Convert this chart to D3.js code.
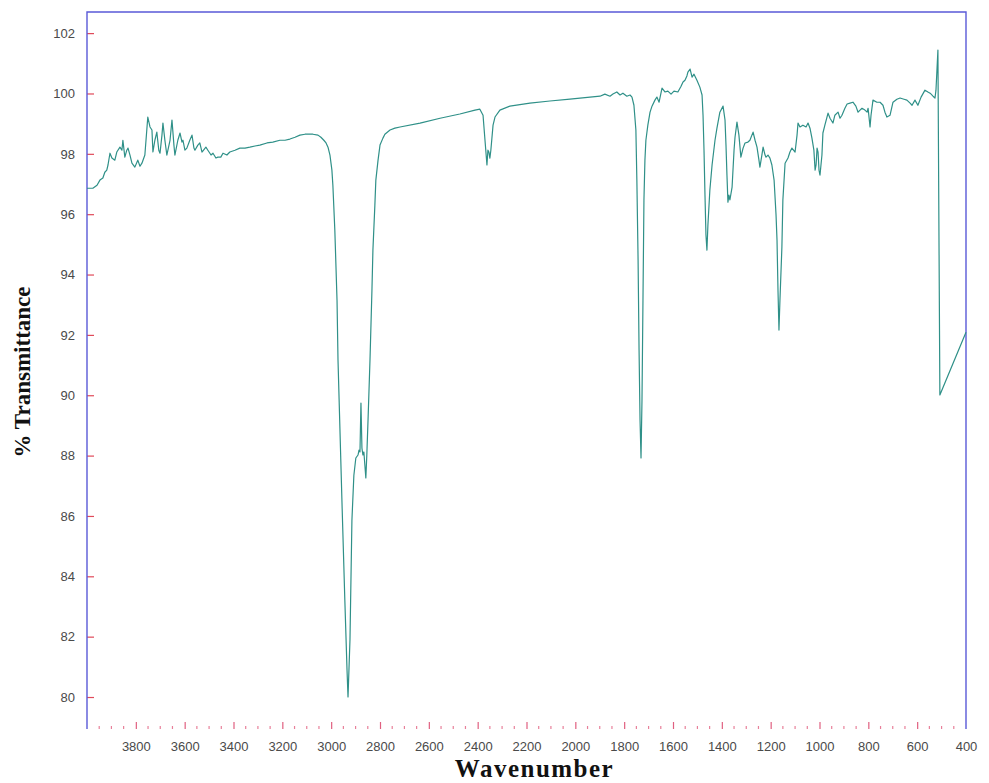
<!DOCTYPE html>
<html>
<head>
<meta charset="utf-8">
<script src="https://cdn.jsdelivr.net/npm/d3@7"></script>
<style>
  body { margin: 0; background: #fff; }
  svg { display: block; }
</style>
</head>
<body>
<div id="chart"></div>
<script>
// wavenumber (cm-1) and % transmittance
const wavenumber = [
  4000, 3976, 3959, 3947, 3935, 3927, 3919, 3914, 3906, 3898, 3886, 3878, 3865, 3857, 3853, 3845,
  3837, 3832, 3824, 3816, 3804, 3792, 3783, 3775, 3763, 3751, 3742, 3734, 3730, 3722, 3714, 3706,
  3701, 3693, 3689, 3681, 3673, 3660, 3652, 3644, 3640, 3628, 3619, 3611, 3607, 3599, 3591, 3579,
  3570, 3562, 3558, 3546, 3538, 3529, 3513, 3505, 3492, 3484, 3472, 3464, 3452, 3443, 3427, 3415,
  3394, 3374, 3353, 3333, 3312, 3292, 3263, 3239, 3210, 3189, 3169, 3148, 3128, 3107, 3075, 3054,
  3042, 3030, 3021, 3013, 3005, 2997, 2993, 2985, 2976, 2972, 2964, 2956, 2944, 2935, 2931, 2923,
  2915, 2907, 2899, 2890, 2886, 2882, 2878, 2874, 2870, 2866, 2862, 2858, 2854, 2849, 2841, 2833,
  2829, 2821, 2817, 2808, 2800, 2788, 2780, 2759, 2739, 2718, 2636, 2554, 2473, 2411, 2391, 2378,
  2370, 2362, 2358, 2354, 2350, 2346, 2337, 2329, 2309, 2268, 2186, 2104, 2022, 1940, 1899, 1879,
  1858, 1846, 1830, 1817, 1805, 1789, 1776, 1768, 1760, 1752, 1748, 1743, 1739, 1735, 1731, 1727,
  1723, 1719, 1715, 1711, 1703, 1694, 1686, 1674, 1666, 1657, 1645, 1633, 1621, 1608, 1596, 1580,
  1567, 1559, 1551, 1543, 1539, 1530, 1522, 1514, 1502, 1490, 1481, 1477, 1473, 1469, 1465, 1461,
  1457, 1449, 1440, 1428, 1420, 1408, 1395, 1387, 1383, 1379, 1375, 1371, 1367, 1358, 1350, 1346,
  1338, 1330, 1322, 1313, 1305, 1293, 1285, 1272, 1264, 1256, 1248, 1244, 1236, 1231, 1223, 1219,
  1211, 1203, 1195, 1186, 1178, 1174, 1170, 1166, 1162, 1154, 1150, 1141, 1129, 1121, 1113, 1100,
  1092, 1088, 1080, 1068, 1055, 1047, 1039, 1031, 1023, 1018, 1014, 1010, 1006, 1002, 998, 990,
  986, 978, 965, 957, 945, 937, 924, 916, 908, 896, 887, 875, 863, 851, 842, 834,
  826, 814, 805, 801, 793, 789, 781, 765, 752, 740, 732, 724, 711, 699, 683, 670,
  654, 642, 629, 621, 609, 597, 584, 568, 556, 547, 535, 527, 523, 519, 515, 507,
  400
];
const transmittance = [
  96.86, 96.86, 96.96, 97.13, 97.20, 97.39, 97.46, 97.63, 98.02, 97.86, 97.79, 98.06, 98.22, 98.12, 98.45, 97.89,
  98.12, 98.19, 97.96, 97.69, 97.56, 97.79, 97.59, 97.69, 97.96, 99.22, 98.89, 98.79, 98.06, 98.45, 98.72, 98.12,
  98.02, 98.62, 99.02, 98.45, 97.96, 98.45, 99.12, 98.29, 97.96, 98.45, 98.69, 98.39, 98.45, 98.12, 98.19, 98.45,
  98.62, 98.19, 98.12, 98.29, 98.36, 98.06, 98.22, 98.12, 97.96, 98.02, 97.86, 97.89, 97.89, 98.02, 97.96, 98.06,
  98.12, 98.19, 98.19, 98.22, 98.26, 98.29, 98.36, 98.39, 98.45, 98.45, 98.49, 98.55, 98.62, 98.65, 98.65, 98.62,
  98.55, 98.45, 98.36, 98.22, 97.96, 97.46, 96.96, 95.47, 93.15, 91.17, 88.85, 86.53, 83.21, 80.89, 80.00, 81.89,
  85.86, 87.35, 87.92, 88.02, 88.18, 88.12, 89.74, 88.25, 88.02, 88.12, 87.69, 87.26, 88.02, 89.18, 91.17, 93.48,
  94.81, 96.30, 97.13, 97.79, 98.29, 98.52, 98.65, 98.79, 98.85, 98.89, 99.02, 99.18, 99.32, 99.45, 99.48, 99.28,
  98.45, 97.63, 98.12, 98.06, 97.86, 98.12, 98.95, 99.22, 99.45, 99.58, 99.68, 99.75, 99.81, 99.88, 99.91, 99.98,
  99.91, 99.98, 100.05, 99.95, 100.01, 99.91, 99.95, 99.88, 99.61, 98.79, 97.13, 94.48, 91.50, 89.18, 87.92, 89.84,
  93.15, 96.47, 97.79, 98.45, 98.95, 99.38, 99.58, 99.78, 99.88, 99.71, 100.18, 100.05, 100.08, 99.98, 100.08, 100.05,
  100.24, 100.38, 100.44, 100.58, 100.71, 100.81, 100.54, 100.64, 100.44, 100.21, 99.95, 99.28, 98.12, 96.63, 95.31, 94.81,
  95.64, 96.80, 97.63, 98.45, 98.85, 99.38, 99.58, 99.12, 98.29, 97.29, 96.40, 96.63, 96.47, 96.90, 98.12, 98.55,
  99.05, 98.62, 97.89, 98.19, 98.36, 98.39, 98.45, 98.72, 98.45, 98.22, 97.79, 97.56, 97.96, 98.22, 97.96, 97.89,
  97.96, 97.86, 97.63, 97.13, 95.97, 95.14, 93.48, 92.16, 93.15, 94.91, 96.47, 97.69, 97.86, 98.06, 98.19, 98.06,
  98.62, 99.02, 98.89, 98.95, 98.89, 99.02, 98.85, 98.52, 98.12, 97.46, 97.63, 98.19, 98.06, 97.46, 97.29, 97.96,
  98.69, 98.95, 99.35, 99.18, 99.02, 99.28, 99.38, 99.18, 99.28, 99.51, 99.65, 99.68, 99.71, 99.58, 99.38, 99.45,
  99.51, 99.45, 99.38, 99.51, 98.89, 99.28, 99.78, 99.71, 99.71, 99.61, 99.38, 99.22, 99.28, 99.71, 99.81, 99.85,
  99.81, 99.78, 99.68, 99.61, 99.78, 99.61, 99.88, 100.11, 100.05, 100.01, 99.91, 99.85, 100.11, 100.77, 101.44, 90.01,
  92.09
];
const yTicks = [80, 82, 84, 86, 88, 90, 92, 94, 96, 98, 100, 102];
const xTicks = [3800, 3600, 3400, 3200, 3000, 2800, 2600, 2400, 2200, 2000, 1800, 1600, 1400, 1200, 1000, 800, 600, 400];
const xMinor = d3.range(3950, 400, -50);

const width = 989, height = 783;
const margin = {left: 87, right: 23, top: 12, bottom: 54};

const svg = d3.select("#chart").append("svg")
  .attr("width", width)
  .attr("height", height);

const x = d3.scaleLinear().domain([4000, 400]).range([margin.left, width - margin.right]);
const y = d3.scaleLinear().domain([78.94, 102.70]).range([height - margin.bottom, margin.top]);

const bottom = height - margin.bottom;

// minor ticks along the bottom
svg.append("g").selectAll("line")
  .data(xMinor.filter(d => xTicks.indexOf(d) < 0))
  .enter().append("line")
  .attr("x1", d => x(d)).attr("x2", d => x(d))
  .attr("y1", bottom).attr("y2", bottom - 3)
  .attr("stroke", "#e8809a").attr("stroke-width", 1.2);

// x axis: ticks point up into the plot
const xAxis = svg.append("g")
  .attr("transform", "translate(0," + bottom + ")")
  .call(d3.axisBottom(x).tickValues(xTicks).tickSizeInner(-7).tickSizeOuter(0).tickPadding(13).tickFormat(d3.format("d")));
xAxis.select(".domain").remove();
xAxis.selectAll(".tick line").attr("stroke", "#e06080").attr("stroke-width", 1.2);
xAxis.selectAll(".tick text")
  .attr("fill", "#4a4a4a")
  .style("font-family", "Liberation Sans, Arial, sans-serif")
  .style("font-size", "13px");
xAxis.selectAll(".tick").filter(d => d === 400).select("line").remove();

// y axis: ticks point right into the plot
const yAxis = svg.append("g")
  .attr("transform", "translate(" + margin.left + ",0)")
  .call(d3.axisLeft(y).tickValues(yTicks).tickSizeInner(-7).tickSizeOuter(0).tickPadding(12));
yAxis.select(".domain").remove();
yAxis.selectAll(".tick line").attr("stroke", "#e04a5a").attr("stroke-width", 1.2);
yAxis.selectAll(".tick text")
  .attr("fill", "#4a4a4a")
  .style("font-family", "Liberation Sans, Arial, sans-serif")
  .style("font-size", "13px");

// frame: left, top, right
const x0 = x.range()[0], x1 = x.range()[1], yTop = y.range()[1];
svg.append("path")
  .attr("d", "M" + x0 + "," + bottom + "V" + yTop + "H" + x1 + "V" + bottom)
  .attr("fill", "none")
  .attr("stroke", "#5a5ad8")
  .attr("stroke-width", 1.4);

// spectrum
const line = d3.line()
  .x((d, i) => x(wavenumber[i]))
  .y(d => y(d));

svg.append("path")
  .datum(transmittance)
  .attr("d", line)
  .attr("fill", "none")
  .attr("stroke", "#2f9088")
  .attr("stroke-width", 1.2)
  .attr("stroke-linejoin", "round");

// axis titles
svg.append("text")
  .attr("x", (x0 + x1) / 2 + 8)
  .attr("y", 777)
  .attr("text-anchor", "middle")
  .style("font-family", "Liberation Serif, Times New Roman, serif")
  .style("font-weight", "bold")
  .style("font-size", "25px")
  .style("letter-spacing", "1.5px")
  .attr("fill", "#111")
  .text("Wavenumber");

svg.append("text")
  .attr("transform", "translate(30," + 372 + ") rotate(-90)")
  .attr("text-anchor", "middle")
  .style("font-family", "Liberation Serif, Times New Roman, serif")
  .style("font-weight", "bold")
  .style("font-size", "23px")
  .attr("fill", "#111")
  .text("% Transmittance");
</script>
</body>
</html>
